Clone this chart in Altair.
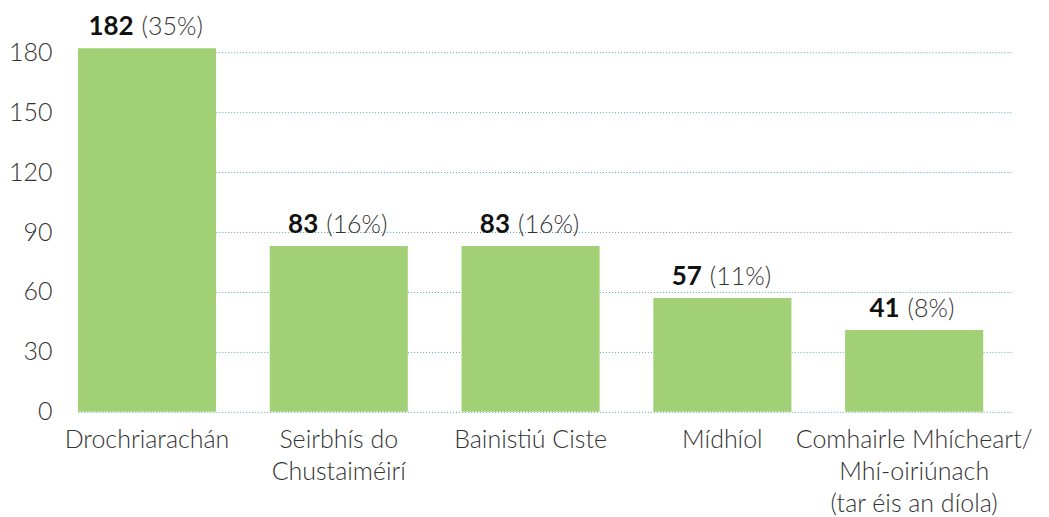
import altair as alt
import pandas as pd

categories = [
    "Drochriarachán",
    "Seirbhís do|Chustaiméirí",
    "Bainistiú Ciste",
    "Mídhíol",
    "Comhairle Mhícheart/|Mhí-oiriúnach|(tar éis an díola)",
]
counts = [182, 83, 83, 57, 41]
percents = [35, 16, 16, 11, 8]
y_ticks = [0, 30, 60, 90, 120, 150, 180]

df = pd.DataFrame({"cat": categories, "count": counts, "pct": percents})

FONT = "Lato"
x_enc = alt.X(
    "cat:N",
    sort=categories,
    scale=alt.Scale(paddingInner=0.28, paddingOuter=0.0725, align=0),
    axis=alt.Axis(
        title=None,
        labelExpr="split(datum.label, '|')",
        labelAngle=0,
        labelFont=FONT,
        labelFontSize=25,
        labelFontWeight=300,
        labelColor="#333333",
        labelLineHeight=32,
        labelPadding=16,
        labelLimit=0,
        ticks=False,
        domain=False,
        grid=False,
    ),
)
y_enc = alt.Y(
    "count:Q",
    scale=alt.Scale(domain=[0, 180], nice=False),
    axis=alt.Axis(
        title=None,
        values=y_ticks,
        grid=True,
        gridDash=[1, 2],
        gridColor="#4fa3ab",
        gridWidth=1,
        ticks=False,
        domain=False,
        labelFont=FONT,
        labelFontSize=25,
        labelFontWeight=300,
        labelColor="#333333",
        labelPadding=26,
    ),
)

bars = alt.Chart(df).mark_bar(color="#a2d076").encode(x=x_enc, y=y_enc)

# split the value label into a bold number and a light percentage,
# centred together over each bar (offset estimated from digit counts)
groups = sorted({(len(str(c)), len(str(p))) for c, p in zip(counts, percents)})
text_layers = []
for nd, pdg in groups:
    split = (14.4 * nd - (12 * pdg + 38) - 8) / 2
    base = alt.Chart(df).transform_calculate(
        pctlabel="'(' + datum.pct + '%)'"
    ).transform_filter(
        f"length(toString(datum.count)) == {nd} && length(toString(datum.pct)) == {pdg}"
    )
    num = base.mark_text(
        align="right", baseline="alphabetic", dy=-13, dx=split,
        font=FONT, fontWeight="bold", fontSize=26, color="#111111",
    ).encode(x=x_enc, y=y_enc, text="count:Q")
    pct = base.mark_text(
        align="left", baseline="alphabetic", dy=-13, dx=split + 8,
        font=FONT, fontWeight=300, fontSize=25, color="#333333",
    ).encode(x=x_enc, y=y_enc, text="pctlabel:N")
    text_layers += [num, pct]

chart = (
    alt.layer(bars, *text_layers)
    .properties(
        width=934,
        height=360,
        autosize=alt.AutoSizeParams(type="none"),
        padding={"left": 70, "top": 44, "right": 30, "bottom": 106},
    )
    .configure_view(stroke=None)
)

chart.save("out.html", embed_options={"renderer": "svg", "actions": False})
